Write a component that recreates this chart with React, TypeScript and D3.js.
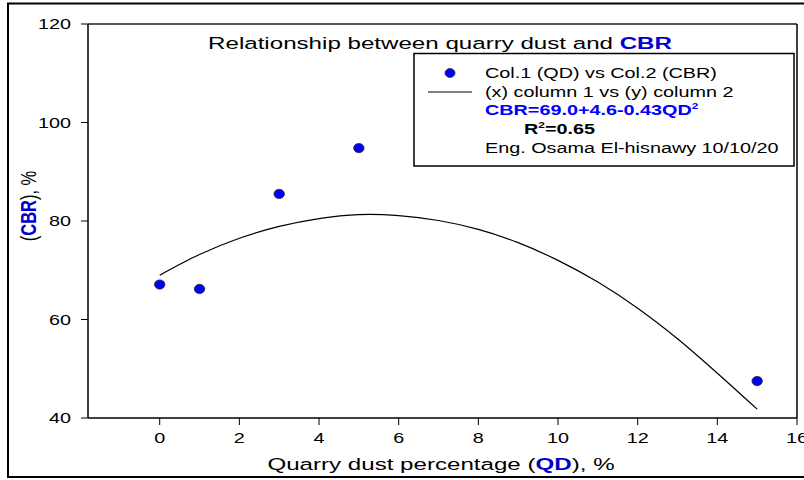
import React from "react";
import * as d3 from "d3";

const qd = [0, 1, 3, 5, 15];
const cbr = [67.1, 66.2, 85.5, 94.8, 47.5];
const fitX = [0, 1, 2, 3, 4, 5, 6, 7, 8, 9, 10, 11, 12, 13, 14, 15];
const fitY = [69.0, 73.2, 76.5, 78.9, 80.5, 81.3, 81.1, 80.1, 78.3, 75.6, 72.0, 67.6, 62.3, 56.1, 49.1, 41.8];
const xTicks = [0, 2, 4, 6, 8, 10, 12, 14, 16];
const yTicks = [40, 60, 80, 100, 120];

const W = 804, H = 480;
const left = 88, right = 797, top = 24, bottom = 418;
const SX = 1.32;

export default function App() {
  const x = d3.scaleLinear().domain([-1.8, 16]).range([left, right]);
  const y = d3.scaleLinear().domain([40, 120]).range([bottom, top]);
  const line = d3.line<number>().x((d, i) => x(fitX[i])).y((d) => y(d)).curve(d3.curveCatmullRom);
  const font = "'Liberation Sans', Arial, sans-serif";
  return (
    <svg width={W} height={H} style={{ position: "absolute", left: 0, top: 0, fontFamily: font }}>
      <rect x={0} y={0} width={W} height={H} fill="#fff" />
      <rect x={8} y={3.5} width={806} height={473.5} fill="none" stroke="#000" strokeWidth={2} />
      <line x1={left} y1={top} x2={right} y2={top} stroke="#555" strokeWidth={2} />
      <line x1={right} y1={top} x2={right} y2={bottom} stroke="#000" strokeWidth={1.5} />
      <line x1={left} y1={top} x2={left} y2={bottom} stroke="#000" strokeWidth={1.5} />
      <line x1={left} y1={bottom} x2={right} y2={bottom} stroke="#000" strokeWidth={1.5} />
      {yTicks.map((t) => (
        <g key={"y" + t}>
          <line x1={left - 7} x2={left} y1={y(t)} y2={y(t)} stroke="#000" strokeWidth={1} />
          <text transform={`translate(71,${y(t) + 5.3}) scale(${SX},1)`} textAnchor="end" fontSize={15}>{t}</text>
        </g>
      ))}
      {xTicks.map((t) => (
        <g key={"x" + t}>
          <line x1={x(t)} x2={x(t)} y1={bottom} y2={bottom + 7} stroke="#000" strokeWidth={1} />
          <text transform={`translate(${x(t)},${bottom + 25}) scale(${SX},1)`} textAnchor="middle" fontSize={15}>{t}</text>
        </g>
      ))}
      <text transform={`translate(441,470) scale(1.42,1)`} textAnchor="middle" fontSize={17}>
        Quarry dust percentage (<tspan fill="#0000cc" fontWeight="bold">QD</tspan>), %
      </text>
      <text transform={`translate(36,206) scale(${SX},1) rotate(-90)`} textAnchor="middle" fontSize={16.5}>
        (<tspan fill="#0000cc" fontWeight="bold">CBR</tspan>), %
      </text>
      <text transform={`translate(440,49) scale(1.42,1)`} textAnchor="middle" fontSize={17}>
        Relationship between quarry dust and <tspan fill="#0000cc" fontWeight="bold">CBR</tspan>
      </text>
      <path d={line(fitY) || ""} fill="none" stroke="#000" strokeWidth={1.2} />
      {qd.map((v, i) => (
        <ellipse key={i} cx={x(v)} cy={y(cbr[i])} rx={5.2} ry={4.6} fill="#0000ff" stroke="#222" strokeWidth={0.8} />
      ))}
      <rect x={414} y={53.5} width={380} height={112.5} fill="#fff" stroke="#000" strokeWidth={1.5} />
      <ellipse cx={450} cy={73} rx={5} ry={4.4} fill="#0000ff" stroke="#222" strokeWidth={0.8} />
      <text transform={`translate(485,78) scale(${SX},1)`} fontSize={15}>Col.1 (QD) vs Col.2 (CBR)</text>
      <line x1={428} x2={472} y1={92} y2={92} stroke="#000" strokeWidth={1} />
      <text transform={`translate(485,97) scale(${SX},1)`} fontSize={15}>(x) column 1 vs (y) column 2</text>
      <text transform={`translate(485,115) scale(${SX},1)`} fontSize={15} fontWeight="bold" fill="#0000ff">
        CBR=69.0+4.6-0.43QD<tspan fontSize={9} dy={-6}>2</tspan>
      </text>
      <text transform={`translate(524,134) scale(${SX},1)`} fontSize={15} fontWeight="bold">
        R<tspan fontSize={9} dy={-6}>2</tspan><tspan dy={6}>=0.65</tspan>
      </text>
      <text transform={`translate(485,153) scale(${SX},1)`} fontSize={15}>Eng. Osama El-hisnawy 10/10/20</text>
    </svg>
  );
}
